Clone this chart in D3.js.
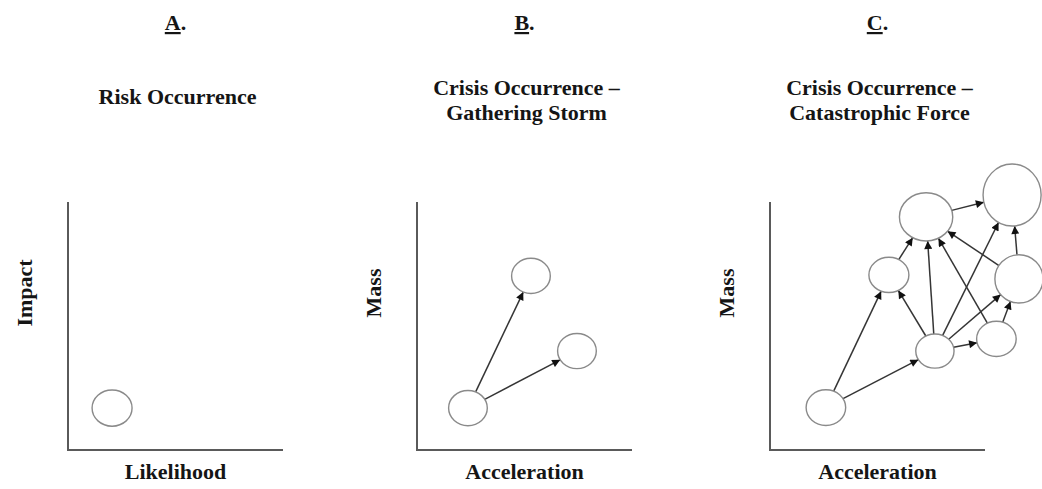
<!DOCTYPE html>
<meta charset="utf-8">
<head>
<style>
body { margin: 0; background: #fff; }
text {
  font-family: "Liberation Serif", "Times New Roman", serif;
  font-weight: bold;
  fill: #151515;
}
.title { font-size: 22px; }
.letter tspan.u { text-decoration: underline; text-decoration-thickness: 2px; text-underline-offset: 2px; }
.axis { stroke: #5a5a5a; stroke-width: 2; fill: none; }
.node { fill: #fff; stroke: #8a8a8a; stroke-width: 1.4; }
.edge { stroke: #353535; stroke-width: 1.5; }
</style>
</head>
<body>
<div id="chart"></div>
<script src="https://d3js.org/d3.v7.min.js"></script>
<script>

// panel headings and labels
var panelLetters = ["A", "B", "C"];
var panelTitles = [
  ["Risk Occurrence"],
  ["Crisis Occurrence \u2013", "Gathering Storm"],
  ["Crisis Occurrence \u2013", "Catastrophic Force"]
];
var xLabels = ["Likelihood", "Acceleration", "Acceleration"];
var yLabels = ["Impact", "Mass", "Mass"];

// nodes: x, y position on a 0-100 scale, rx / ry size in the same units
var nodesA = [
  {x: 20.5, y: 16.9, rx: 9.3, ry: 7.3}
];
var nodesB = [
  {x: 23.7, y: 16.9, rx: 9.0, ry: 7.1},
  {x: 53.0, y: 70.2, rx: 9.0, ry: 7.1},
  {x: 74.4, y: 39.9, rx: 9.0, ry: 7.1}
];
var nodesC = [
  {x: 26.0,  y: 17.1, rx: 9.2,  ry: 7.2},
  {x: 76.7,  y: 39.9, rx: 8.9,  ry: 6.9},
  {x: 105.3, y: 44.8, rx: 9.2,  ry: 7.1},
  {x: 55.3,  y: 70.6, rx: 9.3,  ry: 7.1},
  {x: 72.6,  y: 94.0, rx: 12.4, ry: 9.7},
  {x: 112.6, y: 102.8, rx: 13.5, ry: 12.5},
  {x: 115.8, y: 69.0, rx: 11.2, ry: 9.7}
];

// arrows: [from, to]
var edgesA = [];
var edgesB = [[0, 1], [0, 2]];
var edgesC = [
  [0, 3], [0, 1], [1, 3], [1, 4], [1, 5], [1, 6], [1, 2],
  [2, 4], [6, 4], [6, 5], [2, 6], [3, 4], [4, 5]
];

var panels = [
  {nodes: nodesA, edges: edgesA, left: 68},
  {nodes: nodesB, edges: edgesB, left: 417},
  {nodes: nodesC, edges: edgesC, left: 770}
];

var width = 1042, height = 489;
var plotW = 215, plotTop = 202, plotBottom = 450;

var svg = d3.select("#chart")
  .append("svg")
    .attr("width", width)
    .attr("height", height);

svg.append("defs").append("marker")
    .attr("id", "arrow")
    .attr("markerUnits", "userSpaceOnUse")
    .attr("viewBox", "0 0 10 10")
    .attr("refX", 10)
    .attr("refY", 5)
    .attr("markerWidth", 10)
    .attr("markerHeight", 8)
    .attr("orient", "auto")
  .append("path")
    .attr("d", "M0,0 L10,5 L0,10 Z")
    .style("fill", "#111");

// point on ellipse boundary from center c towards point p
function edgePoint(c, rx, ry, p) {
  var dx = p[0] - c[0], dy = p[1] - c[1];
  var t = 1 / Math.sqrt((dx / rx) * (dx / rx) + (dy / ry) * (dy / ry));
  return [c[0] + dx * t, c[1] + dy * t];
}

panels.forEach(function(p, i) {
  var x = d3.scaleLinear().domain([0, 100]).range([p.left, p.left + plotW]);
  var y = d3.scaleLinear().domain([0, 100]).range([plotBottom, plotTop]);
  var cx = p.left + plotW / 2;
  var g = svg.append("g");

  // panel letter
  var letter = g.append("text")
    .attr("class", "title letter")
    .attr("x", cx)
    .attr("y", 30)
    .style("text-anchor", "middle");
  letter.append("tspan").attr("class", "u").text(panelLetters[i]);
  letter.append("tspan").text(".");

  // title, one text per line
  var lines = panelTitles[i];
  g.selectAll(".ptitle")
    .data(lines)
    .enter()
    .append("text")
      .attr("class", "title ptitle")
      .attr("x", cx + 2)
      .attr("y", function(d, j) { return lines.length == 1 ? 104 : 94.5 + j * 25; })
      .style("text-anchor", "middle")
      .text(function(d) { return d; });

  // axes (L shape)
  g.append("path")
    .attr("class", "axis")
    .attr("d", "M" + x(0) + "," + y(100) + " L" + x(0) + "," + y(0) + " L" + x(100) + "," + y(0));

  g.append("text")
    .attr("class", "title")
    .attr("x", cx)
    .attr("y", 479)
    .style("text-anchor", "middle")
    .text(xLabels[i]);

  g.append("text")
    .attr("class", "title")
    .attr("transform", "translate(" + (x(0) - 36) + ",293) rotate(-90)")
    .style("text-anchor", "middle")
    .text(yLabels[i]);

  // node pixel geometry
  var pts = p.nodes.map(function(n) {
    return {
      c: [x(n.x), y(n.y)],
      rx: x(n.rx) - x(0),
      ry: y(0) - y(n.ry)
    };
  });

  // arrows
  g.selectAll(".edge")
    .data(p.edges)
    .enter()
    .append("line")
      .attr("class", "edge")
      .attr("marker-end", "url(#arrow)")
      .each(function(e) {
        var a = pts[e[0]], b = pts[e[1]];
        var s = edgePoint(a.c, a.rx, a.ry, b.c);
        var t = edgePoint(b.c, b.rx, b.ry, a.c);
        d3.select(this)
          .attr("x1", s[0]).attr("y1", s[1])
          .attr("x2", t[0]).attr("y2", t[1]);
      });

  // circles
  g.selectAll(".node")
    .data(pts)
    .enter()
    .append("ellipse")
      .attr("class", "node")
      .attr("cx", function(d) { return d.c[0]; })
      .attr("cy", function(d) { return d.c[1]; })
      .attr("rx", function(d) { return d.rx; })
      .attr("ry", function(d) { return d.ry; });
});

</script>
</body>
